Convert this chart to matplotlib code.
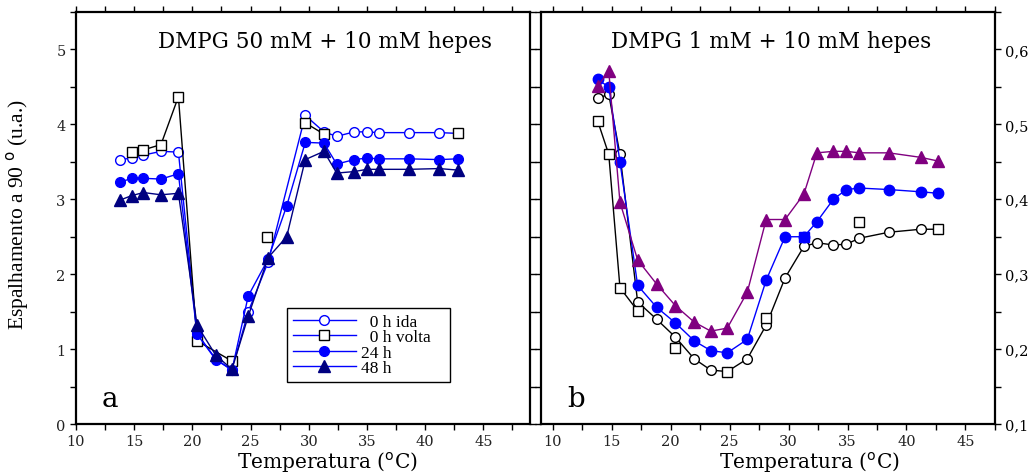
import numpy as np
import matplotlib
matplotlib.use("Agg")
import matplotlib.pyplot as plt
from matplotlib.ticker import MultipleLocator, FuncFormatter

# ---- panel a: DMPG 50 mM ----
t_a = [13.8, 14.8, 15.8, 17.3, 18.8, 20.4, 22.0, 23.4, 24.8, 26.5,
       28.1, 29.7, 31.3, 32.4, 33.9, 35.0, 36.0, 38.6, 41.2, 42.8]
ida_a_t = [13.8, 14.8, 15.8, 17.3, 18.8, 20.4, 22.0, 23.4, 24.8, 26.5,
           29.7, 31.3, 32.4, 33.9, 35.0, 36.0, 38.6, 41.2, 42.8]
ida_a = [3.53, 3.55, 3.59, 3.64, 3.63, 1.21, 0.87, 0.72, 1.50, 2.16,
         4.12, 3.90, 3.84, 3.90, 3.90, 3.89, 3.89, 3.89, 3.88]
volta_a_t = [14.8, 15.8, 17.3, 18.8, 20.4, 23.4, 26.4, 29.7, 31.3, 42.8]
volta_a = [3.63, 3.66, 3.73, 4.37, 1.11, 0.84, 2.50, 4.02, 3.87, 3.88]
volta_a_segs = [(0, 5), (7, 8)]   # index ranges joined by a line
h24_a = [3.23, 3.28, 3.28, 3.27, 3.34, 1.20, 0.86, 0.72, 1.71, 2.20,
         2.91, 3.76, 3.75, 3.47, 3.53, 3.55, 3.54, 3.54, 3.53, 3.54]
h48_a = [2.99, 3.05, 3.09, 3.06, 3.08, 1.32, 0.92, 0.73, 1.44, 2.22,
         2.50, 3.53, 3.64, 3.35, 3.37, 3.40, 3.40, 3.40, 3.41, 3.39]

# ---- panel b: DMPG 1 mM ----
t_b = [13.8, 14.75, 15.7, 17.2, 18.8, 20.4, 22.0, 23.4, 24.8, 26.5,
       28.1, 29.7, 31.3, 32.4, 33.8, 34.9, 36.0, 38.5, 41.2, 42.7]
tri_b = [0.551, 0.571, 0.396, 0.319, 0.287, 0.258, 0.236, 0.224, 0.228, 0.276,
         0.373, 0.373, 0.407, 0.462, 0.464, 0.464, 0.462, 0.462, 0.456, 0.451]
blue_b = [0.560, 0.550, 0.450, 0.285, 0.256, 0.235, 0.211, 0.198, 0.195, 0.213,
          0.292, 0.350, 0.350, 0.370, 0.400, 0.413, 0.415, 0.413, 0.410, 0.408]
circ_b = [0.535, 0.540, 0.460, 0.263, 0.240, 0.216, 0.187, 0.172, 0.170, 0.187,
          0.232, 0.295, 0.337, 0.342, 0.339, 0.340, 0.348, 0.356, 0.360, 0.360]
sq_b_t = [13.8, 14.75, 15.7, 17.2, 20.4, 24.8, 28.1, 36.0, 42.7]
sq_b = [0.505, 0.460, 0.282, 0.251, 0.201, 0.170, 0.242, 0.370, 0.360]
sq_b_segs = [(0, 3)]

BLUE = "#0000ff"
NAVY = "#000080"
PURPLE = "#800080"
SERIF = "DejaVu Serif"
TIMES = "Liberation Serif"

fig = plt.figure(figsize=(10.31, 4.77), dpi=100)
ax1 = fig.add_axes([0.0737, 0.109, 0.4403, 0.8637])
ax2 = fig.add_axes([0.5247, 0.109, 0.4403, 0.8637])


def style_axes(ax):
    for s in ax.spines.values():
        s.set_linewidth(1.6)
    ax.xaxis.set_major_locator(MultipleLocator(5))
    ax.xaxis.set_minor_locator(MultipleLocator(2.5))
    ax.tick_params(which="both", direction="out", length=4, width=1,
                   top=True, right=True, left=True, bottom=True)
    for lab in ax.get_xticklabels() + ax.get_yticklabels():
        lab.set_fontfamily(SERIF)
        lab.set_fontsize(10.5)
        lab.set_color("#222222")


def seg_plot(ax, x, y, segs, **kw):
    for i0, i1 in segs:
        ax.plot(x[i0:i1 + 1], y[i0:i1 + 1], **kw)


# panel a
ax1.plot(ida_a_t, ida_a, color=BLUE, lw=1.0, marker="o", ms=7,
         mfc="white", mec=BLUE, label="  0 h ida", zorder=3)
seg_plot(ax1, volta_a_t, volta_a, volta_a_segs, color="black", lw=1.0, zorder=3)
ax1.plot(volta_a_t, volta_a, ls="none", marker="s", ms=7, mfc="white",
         mec="black", zorder=4)
ax1.plot([], [], color="black", lw=1.0, marker="s", ms=7, mfc="white",
         mec="black", label="  0 h volta   ")
ax1.plot(t_a, h24_a, color=BLUE, lw=1.0, marker="o", ms=7, mfc=BLUE,
         mec=BLUE, label="24 h", zorder=5)
ax1.plot(t_a, h48_a, color=NAVY, lw=1.0, marker="^", ms=8, mfc=NAVY,
         mec=NAVY, label="48 h", zorder=5)

ax1.set_xlim(10, 49)
ax1.set_ylim(0, 5.5)
ax1.yaxis.set_major_locator(MultipleLocator(1))
ax1.yaxis.set_minor_locator(MultipleLocator(0.5))
style_axes(ax1)
ax1.tick_params(labelleft=True, labelright=False)

leg = ax1.legend(loc="lower left", bbox_to_anchor=(0.465, 0.102),
                 prop={"family": TIMES, "size": 12.5}, frameon=True,
                 fancybox=False, edgecolor="black", framealpha=1,
                 handlelength=3.6, handletextpad=0.3, labelspacing=-0.05,
                 borderpad=0.35, borderaxespad=0)
leg.get_frame().set_linewidth(1.0)
for h in leg.legend_handles:
    h.set_color(BLUE)

ax1.text(0.548, 0.93, "DMPG 50 mM + 10 mM hepes", transform=ax1.transAxes,
         ha="center", va="center", fontsize=15.5, family=SERIF)
ax1.text(0.075, 0.062, "a", transform=ax1.transAxes, ha="center",
         va="center", fontsize=20, family=SERIF)
ax1.text(0.553, -0.09, "Temperatura ($^{\\rm o}$C)", transform=ax1.transAxes,
         ha="center", va="center", fontsize=14.5, family=SERIF)
ax1.set_ylabel("Espalhamento a 90 $^{\\rm o}$ (u.a.)", family=TIMES,
               fontsize=15.5)
ax1.yaxis.set_label_coords(-0.10, 0.51)

# panel b
seg_plot(ax2, sq_b_t, sq_b, sq_b_segs, color="black", lw=1.0, zorder=3)
ax2.plot(t_b, circ_b, color="black", lw=1.0, marker="o", ms=7,
         mfc="white", mec="black", zorder=3)
ax2.plot(sq_b_t, sq_b, ls="none", marker="s", ms=7, mfc="white",
         mec="black", zorder=4)
ax2.plot(t_b, blue_b, color=BLUE, lw=1.0, marker="o", ms=7.5, mfc=BLUE,
         mec=BLUE, zorder=5)
ax2.plot(t_b[12], blue_b[12], ls="none", marker="s", ms=7, mfc=BLUE,
         mec=BLUE, zorder=6)
ax2.plot(t_b, tri_b, color=PURPLE, lw=1.0, marker="^", ms=8.5, mfc=PURPLE,
         mec=PURPLE, zorder=5)

ax2.set_xlim(9.0, 47.5)
ax2.set_ylim(0.1, 0.65)
ax2.yaxis.set_major_locator(MultipleLocator(0.1))
ax2.yaxis.set_minor_locator(MultipleLocator(0.05))
ax2.yaxis.set_major_formatter(FuncFormatter(lambda v, p: f"{v:.1f}".replace(".", ",")))
style_axes(ax2)
ax2.tick_params(labelleft=False, labelright=True)
for lab in ax2.get_yticklabels():
    lab.set_fontfamily(SERIF)
    lab.set_fontsize(10.5)

ax2.text(0.507, 0.93, "DMPG 1 mM + 10 mM hepes", transform=ax2.transAxes,
         ha="center", va="center", fontsize=15.5, family=SERIF)
ax2.text(0.077, 0.062, "b", transform=ax2.transAxes, ha="center",
         va="center", fontsize=20, family=SERIF)
ax2.text(0.592, -0.09, "Temperatura ($^{\\rm o}$C)", transform=ax2.transAxes,
         ha="center", va="center", fontsize=14.5, family=SERIF)

fig.savefig("out.png", dpi=100)
